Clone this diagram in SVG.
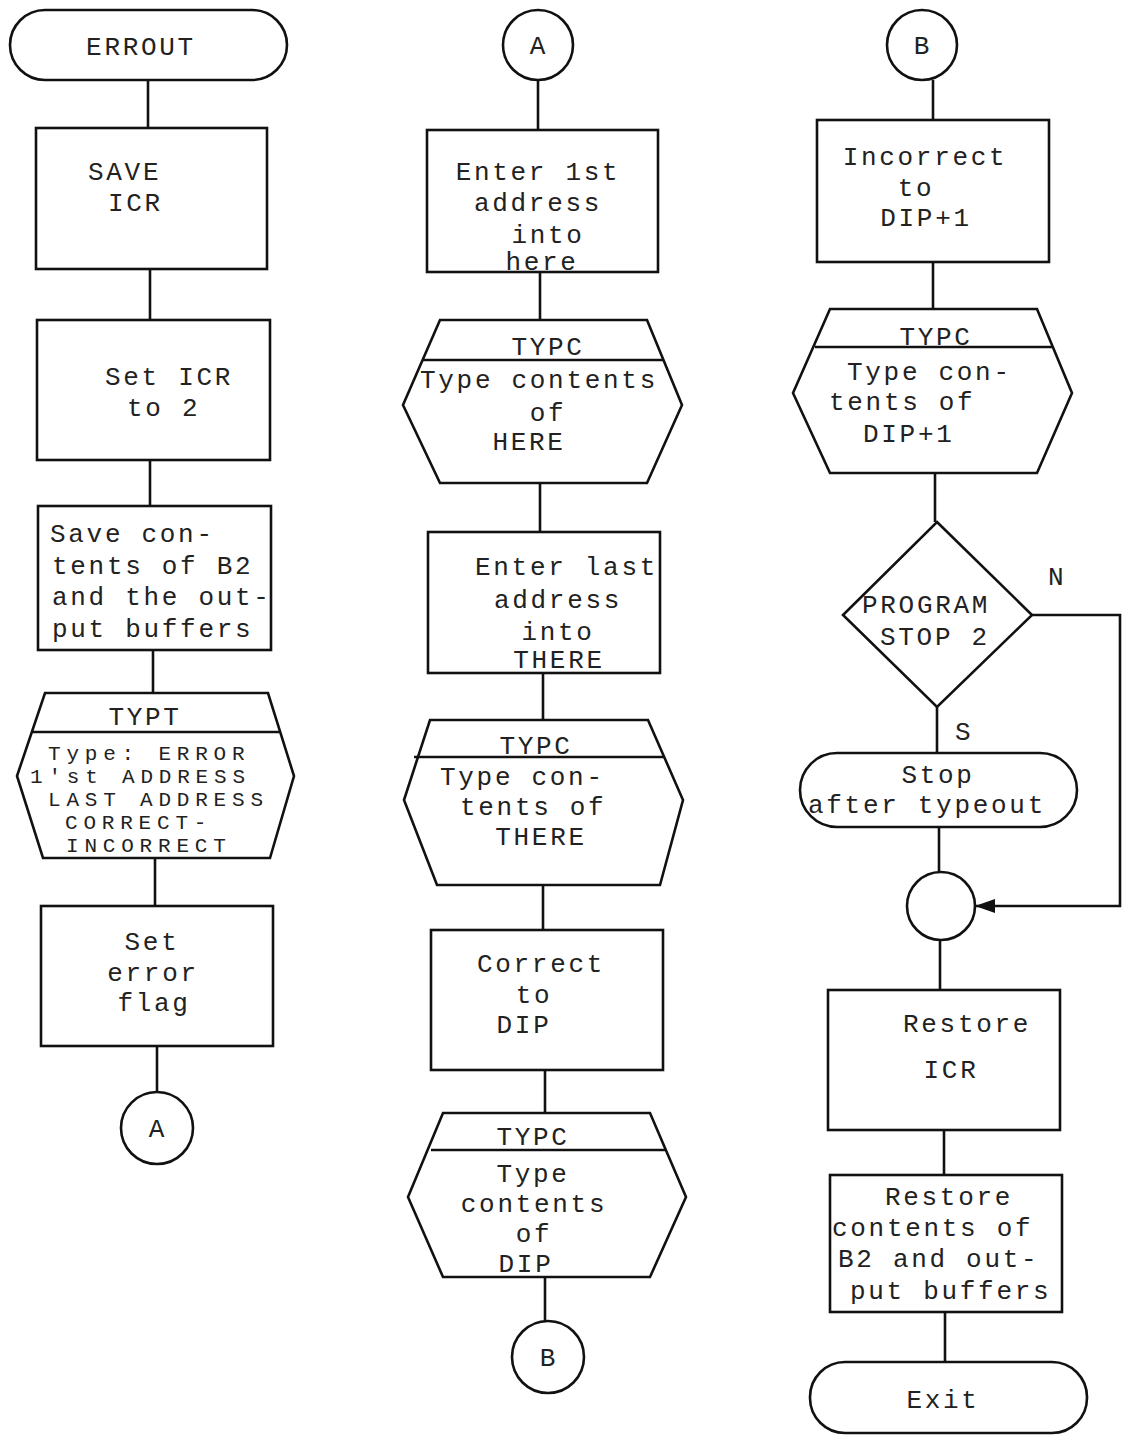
<svg xmlns="http://www.w3.org/2000/svg" width="1123" height="1435" viewBox="0 0 1123 1435">
<defs>
<style>
.s{fill:#fff;stroke:#111;stroke-width:2.6}
.c{fill:none;stroke:#111;stroke-width:2.6}
text{font-family:"Liberation Mono","DejaVu Sans Mono",monospace;font-size:26px;letter-spacing:2.7px;fill:#222}
.m{text-anchor:middle}
.t{font-size:21px;letter-spacing:5.8px}
</style>
<marker id="ah" markerWidth="20" markerHeight="14" refX="19" refY="7" orient="auto" markerUnits="userSpaceOnUse">
<path d="M0,0 L20,7 L0,14 Z" fill="#111"/>
</marker>
</defs>
<rect width="1123" height="1435" fill="#fff"/>
<g id="connectors">
<line class="c" x1="148" y1="80" x2="148" y2="128"/>
<line class="c" x1="150" y1="269" x2="150" y2="320"/>
<line class="c" x1="150" y1="460" x2="150" y2="506"/>
<line class="c" x1="153" y1="650" x2="153" y2="693"/>
<line class="c" x1="155" y1="858" x2="155" y2="906"/>
<line class="c" x1="157" y1="1046" x2="157" y2="1092"/>
<line class="c" x1="538" y1="80" x2="538" y2="130"/>
<line class="c" x1="540" y1="272" x2="540" y2="320"/>
<line class="c" x1="540" y1="483" x2="540" y2="532"/>
<line class="c" x1="543" y1="673" x2="543" y2="720"/>
<line class="c" x1="543" y1="885" x2="543" y2="930"/>
<line class="c" x1="545" y1="1070" x2="545" y2="1113"/>
<line class="c" x1="545" y1="1277" x2="545" y2="1321"/>
<line class="c" x1="933" y1="80" x2="933" y2="120"/>
<line class="c" x1="933" y1="262" x2="933" y2="309"/>
<line class="c" x1="935" y1="473" x2="935" y2="522"/>
<line class="c" x1="937" y1="707" x2="937" y2="753"/>
<line class="c" x1="939" y1="827" x2="939" y2="872"/>
<polyline class="c" points="1032,615 1120,615 1120,906 976,906" marker-end="url(#ah)"/>
<line class="c" x1="940" y1="940" x2="940" y2="990"/>
<line class="c" x1="944" y1="1130" x2="944" y2="1175"/>
<line class="c" x1="945" y1="1312" x2="945" y2="1362"/>
<text x="1048" y="585">N</text>
<text x="955" y="740">S</text>
</g>
<g id="n_errout">
<rect class="s" x="10" y="10" width="277" height="70" rx="35"/>
<text class="m" x="141" y="55">ERROUT</text>
</g>
<g id="n_save_icr">
<rect class="s" x="36" y="128" width="231" height="141"/>
<text x="88" y="180">SAVE</text>
<text x="108" y="211">ICR</text>
</g>
<g id="n_set_icr">
<rect class="s" x="37" y="320" width="233" height="140"/>
<text x="105" y="385">Set ICR</text>
<text x="127" y="416">to 2</text>
</g>
<g id="n_save_contents">
<rect class="s" x="38" y="506" width="233" height="144"/>
<text x="50" y="542">Save con-</text>
<text x="52" y="574">tents of B2</text>
<text x="52" y="605">and the out-</text>
<text x="52" y="637">put buffers</text>
</g>
<g id="n_typt">
<polygon class="s" points="45,693 268,693 294,776 270,858 43,858 17,776"/>
<line class="c" x1="32" y1="732" x2="280" y2="732"/>
<text class="m" x="145" y="725">TYPT</text>
<text class="t" x="48" y="760">Type: ERROR</text>
<text class="t" x="30" y="783">1'st ADDRESS</text>
<text class="t" x="48" y="806">LAST ADDRESS</text>
<text class="t" x="65" y="829">CORRECT-</text>
<text class="t" x="66" y="852">INCORRECT</text>
</g>
<g id="n_set_flag">
<rect class="s" x="41" y="906" width="232" height="140"/>
<text class="m" x="152" y="950">Set</text>
<text class="m" x="153" y="981">error</text>
<text class="m" x="154" y="1011">flag</text>
</g>
<g id="n_conn_a_out">
<circle class="s" cx="157" cy="1128" r="36"/>
<text class="m" x="158" y="1137">A</text>
</g>
<g id="n_conn_a_in">
<circle class="s" cx="538" cy="45" r="35"/>
<text class="m" x="539" y="54">A</text>
</g>
<g id="n_enter_first">
<rect class="s" x="427" y="130" width="231" height="142"/>
<text class="m" x="538" y="180">Enter 1st</text>
<text class="m" x="538" y="211">address</text>
<text class="m" x="548" y="243">into</text>
<text class="m" x="542" y="270">here</text>
</g>
<g id="n_typc_here">
<polygon class="s" points="440,320 647,320 682,405 647,483 440,483 403,405"/>
<line class="c" x1="423" y1="360" x2="663" y2="360"/>
<text class="m" x="548" y="355">TYPC</text>
<text x="420" y="388">Type contents</text>
<text class="m" x="548" y="421">of</text>
<text class="m" x="529" y="450">HERE</text>
</g>
<g id="n_enter_last">
<rect class="s" x="428" y="532" width="232" height="141"/>
<text x="475" y="575">Enter last</text>
<text class="m" x="558" y="608">address</text>
<text class="m" x="558" y="640">into</text>
<text class="m" x="559" y="668">THERE</text>
</g>
<g id="n_typc_there">
<polygon class="s" points="430,720 648,720 683,800 660,885 437,885 404,800"/>
<line class="c" x1="414" y1="757" x2="664" y2="757"/>
<text class="m" x="536" y="754">TYPC</text>
<text x="440" y="785">Type con-</text>
<text x="460" y="815">tents of</text>
<text class="m" x="541" y="845">THERE</text>
</g>
<g id="n_correct">
<rect class="s" x="431" y="930" width="232" height="140"/>
<text class="m" x="541" y="972">Correct</text>
<text class="m" x="534" y="1003">to</text>
<text class="m" x="524" y="1033">DIP</text>
</g>
<g id="n_typc_dip">
<polygon class="s" points="443,1113 650,1113 686,1197 650,1277 443,1277 408,1197"/>
<line class="c" x1="431" y1="1150" x2="665" y2="1150"/>
<text class="m" x="533" y="1145">TYPC</text>
<text class="m" x="533" y="1182">Type</text>
<text class="m" x="534" y="1212">contents</text>
<text class="m" x="534" y="1242">of</text>
<text class="m" x="526" y="1272">DIP</text>
</g>
<g id="n_conn_b_out">
<circle class="s" cx="548" cy="1357" r="36"/>
<text class="m" x="549" y="1366">B</text>
</g>
<g id="n_conn_b_in">
<circle class="s" cx="922" cy="45" r="35"/>
<text class="m" x="923" y="54">B</text>
</g>
<g id="n_incorrect">
<rect class="s" x="817" y="120" width="232" height="142"/>
<text class="m" x="925" y="165">Incorrect</text>
<text class="m" x="916" y="196">to</text>
<text class="m" x="926" y="226">DIP+1</text>
</g>
<g id="n_typc_dip1">
<polygon class="s" points="830,309 1037,309 1072,393 1037,473 830,473 793,393"/>
<line class="c" x1="815" y1="347" x2="1052" y2="347"/>
<text class="m" x="936" y="345">TYPC</text>
<text x="847" y="380">Type con-</text>
<text x="829" y="410">tents of</text>
<text x="863" y="442">DIP+1</text>
</g>
<g id="n_decision">
<polygon class="s" points="937,522 1032,615 937,707 843,615"/>
<text x="862" y="613">PROGRAM</text>
<text x="880" y="645">STOP 2</text>
</g>
<g id="n_stop">
<rect class="s" x="800" y="753" width="277" height="74" rx="37"/>
<text class="m" x="938" y="783">Stop</text>
<text x="808" y="813">after typeout</text>
</g>
<g id="n_merge">
<circle class="s" cx="941" cy="906" r="34"/>
</g>
<g id="n_restore_icr">
<rect class="s" x="828" y="990" width="232" height="140"/>
<text x="903" y="1032">Restore</text>
<text class="m" x="951" y="1078">ICR</text>
</g>
<g id="n_restore_contents">
<rect class="s" x="830" y="1175" width="232" height="137"/>
<text class="m" x="949" y="1205">Restore</text>
<text x="832" y="1236">contents of</text>
<text x="838" y="1267">B2 and out-</text>
<text x="850" y="1299">put buffers</text>
</g>
<g id="n_exit">
<rect class="s" x="810" y="1362" width="277" height="71" rx="35"/>
<text class="m" x="943" y="1408">Exit</text>
</g>
</svg>
